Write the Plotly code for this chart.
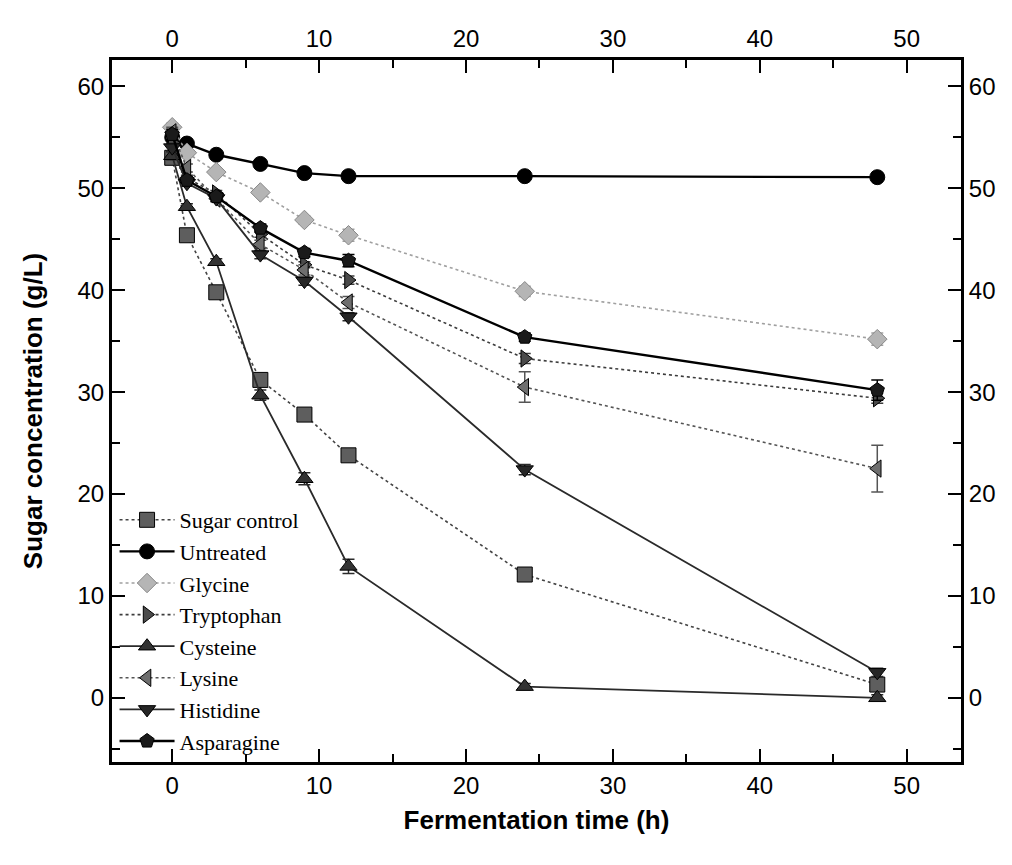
import plotly.graph_objects as go

time_h = [0, 1, 3, 6, 9, 12, 24, 48]

series_names = ["Sugar control", "Untreated", "Glycine", "Tryptophan",
                "Cysteine", "Lysine", "Histidine", "Asparagine"]

sugar_control = [53.0, 45.4, 39.8, 31.2, 27.8, 23.8, 12.1, 1.3]
untreated = [55.0, 54.4, 53.3, 52.4, 51.5, 51.2, 51.2, 51.1]
glycine = [56.0, 53.5, 51.6, 49.6, 46.9, 45.4, 39.9, 35.2]
tryptophan = [54.5, 51.0, 49.5, 45.5, 42.5, 41.0, 33.3, 29.4]
cysteine = [53.2, 48.2, 42.8, 29.7, 21.5, 12.9, 1.1, 0.0]
lysine = [55.5, 52.0, 49.0, 44.5, 42.0, 38.8, 30.5, 22.5]
histidine = [54.0, 50.5, 49.0, 43.5, 40.9, 37.4, 22.4, 2.5]
asparagine = [55.3, 50.8, 49.2, 46.1, 43.7, 42.9, 35.4, 30.2]

sugar_control_err = [0.4, 0.4, 0.3, 0.3, 0.3, 0.3, 0.3, 0.4]
untreated_err = [0.3, 0.2, 0.2, 0.2, 0.2, 0.2, 0.2, 0.2]
glycine_err = [0.4, 0.3, 0.3, 0.3, 0.4, 0.6, 0.5, 0.6]
tryptophan_err = [0.4, 0.3, 0.3, 0.3, 0.3, 0.4, 0.5, 0.5]
cysteine_err = [0.4, 0.3, 0.3, 0.5, 0.6, 0.7, 0.3, 0.3]
lysine_err = [0.5, 0.4, 0.3, 0.4, 0.5, 0.6, 1.5, 2.3]
histidine_err = [0.4, 0.3, 0.3, 0.4, 0.4, 0.4, 0.5, 0.4]
asparagine_err = [0.5, 0.3, 0.3, 0.4, 0.4, 0.6, 0.4, 1.0]

values = [sugar_control, untreated, glycine, tryptophan, cysteine, lysine, histidine, asparagine]
errors = [sugar_control_err, untreated_err, glycine_err, tryptophan_err,
          cysteine_err, lysine_err, histidine_err, asparagine_err]

symbols = ["square", "circle", "diamond", "triangle-right",
           "triangle-up", "triangle-left", "triangle-down", "pentagon"]
fills = ["#5e5e5e", "#000000", "#b5b5b5", "#4a4a4a",
         "#333333", "#6e6e6e", "#262626", "#1a1a1a"]
line_colors = ["#444444", "#000000", "#a0a0a0", "#3c3c3c",
               "#2a2a2a", "#555555", "#2a2a2a", "#000000"]
dashes = ["dot", "solid", "dot", "dot", "solid", "dot", "solid", "solid"]
widths = [1.6, 2.4, 1.6, 1.6, 1.8, 1.6, 1.8, 2.4]

fig = go.Figure()
for name, y, e, sym, fc, lc, d, w in zip(series_names, values, errors, symbols,
                                         fills, line_colors, dashes, widths):
    fig.add_trace(go.Scatter(
        x=time_h, y=y, name=name, mode="lines+markers",
        line=dict(color=lc, width=w, dash=d),
        marker=dict(symbol=sym, size=15, color=fc,
                    line=dict(color="#000000" if fc != "#b5b5b5" else "#888888", width=1)),
        error_y=dict(type="data", array=e, color=lc, thickness=1.5, width=6),
    ))

# invisible trace for the top / right axes
fig.add_trace(go.Scatter(x=[time_h[0]], y=[untreated[0]], xaxis="x2", yaxis="y2",
                         mode="markers", marker=dict(opacity=0), showlegend=False,
                         hoverinfo="skip"))

tick_font = dict(family="Liberation Sans, Arial, sans-serif", size=24, color="#000")
title_font = dict(family="Liberation Sans, Arial, sans-serif", size=26, color="#000")
common_axis = dict(showgrid=False, zeroline=False, showline=True, linecolor="#000",
                   linewidth=3, ticks="inside", ticklen=13, tickwidth=2, tickcolor="#000",
                   tickfont=tick_font)
x_minor = dict(tickvals=[5, 15, 25, 35, 45], ticklen=8, tickwidth=2,
               ticks="inside", tickcolor="#000")
y_minor = dict(tickvals=[-5, 5, 15, 25, 35, 45, 55], ticklen=8, tickwidth=2,
               ticks="inside", tickcolor="#000")

fig.update_layout(
    width=1012, height=865,
    paper_bgcolor="white", plot_bgcolor="white",
    margin=dict(l=112, r=51, t=60, b=103),
    xaxis=dict(range=[-4.1, 53.7], tickvals=[0, 10, 20, 30, 40, 50], minor=x_minor,
               title=dict(text="<b>Fermentation time (h)</b>", font=title_font, standoff=14),
               **common_axis),
    yaxis=dict(range=[-6.3, 62.6], tickvals=[0, 10, 20, 30, 40, 50, 60], minor=y_minor,
               title=dict(text="<b>Sugar concentration (g/L)</b>", font=title_font, standoff=28),
               **common_axis),
    xaxis2=dict(overlaying="x", side="top", matches="x", range=[-4.1, 53.7],
                tickvals=[0, 10, 20, 30, 40, 50], minor=x_minor, **common_axis),
    yaxis2=dict(overlaying="y", side="right", matches="y", range=[-6.3, 62.6],
                tickvals=[0, 10, 20, 30, 40, 50, 60], minor=y_minor, **common_axis),
    legend=dict(x=0.003, y=0.0, xanchor="left", yanchor="bottom",
                bgcolor="rgba(0,0,0,0)", borderwidth=0,
                font=dict(family="Liberation Serif, Times New Roman, serif", size=22, color="#000"),
                tracegroupgap=0, itemwidth=55),
    showlegend=True,
)

fig.write_html("out.html")
